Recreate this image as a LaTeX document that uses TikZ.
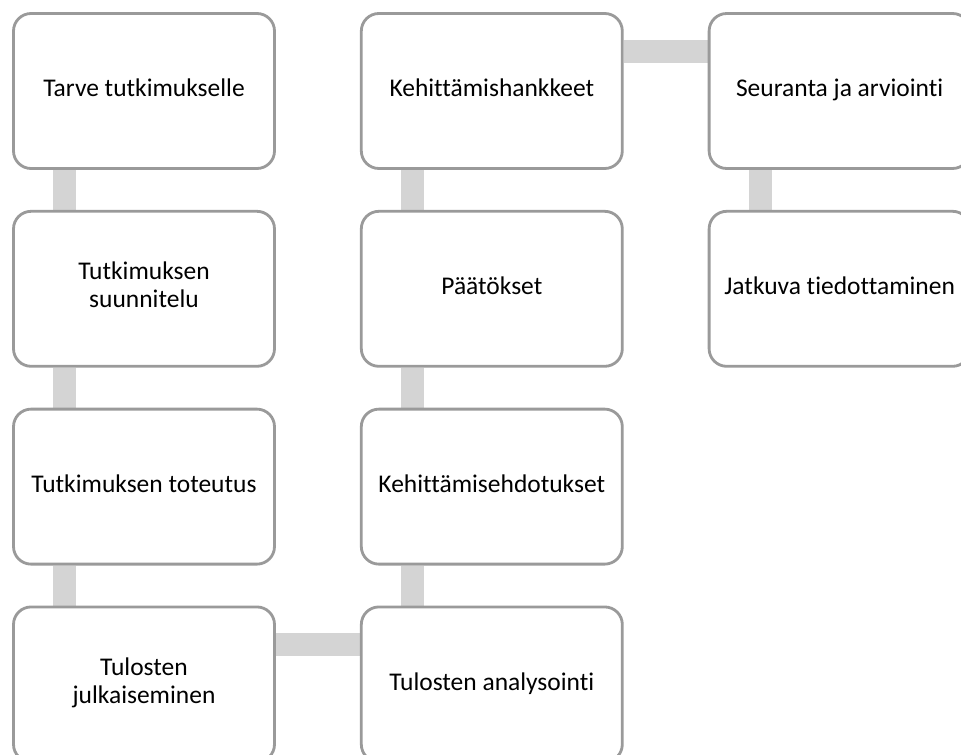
\documentclass[tikz,border=0pt]{standalone}
\usepackage{fontspec}
\setmainfont{Carlito}[Ligatures=NoCommon]
\usetikzlibrary{positioning,calc,backgrounds}
\definecolor{boxline}{HTML}{9A9A9A}
\definecolor{barfill}{HTML}{D4D4D4}
\newcommand{\vlink}[2]{\draw[bar] ($(#1.south west)!0.2!(#1.south east)$) -- ($(#2.north west)!0.2!(#2.north east)$);}
\newcommand{\hlink}[2]{\draw[bar] ($(#1.north east)!0.25!(#1.south east)$) -- ($(#2.north west)!0.25!(#2.south west)$);}

\begin{document}
\begin{tikzpicture}[node distance=0.8cm and 1.68cm,
  phase/.style={rounded corners=10pt, fill=white, draw=boxline, line width=1.6pt, minimum width=5.22cm, minimum height=3.1cm, align=center, font=\fontsize{14.5}{16}\selectfont, execute at begin node=\strut},
  bar/.style={draw=barfill, line width=0.46cm}]
\useasboundingbox (-2.88,1.82) rectangle ++(19.22,-15.1);
\clip (-2.88,1.82) rectangle ++(19.22,-15.1);
\node[phase] (tarve) at (0,0) {Tarve tutkimukselle};
\node[phase, below=of tarve] (suunnitelu) {Tutkimuksen\\suunnitelu};
\node[phase, below=of suunnitelu] (toteutus) {Tutkimuksen toteutus};
\node[phase, below=of toteutus] (julkaisu) {Tulosten\\julkaiseminen};
\node[phase, right=of julkaisu] (analyysi) {Tulosten analysointi};
\node[phase, above=of analyysi] (ehdotukset) {Kehittämisehdotukset};
\node[phase, above=of ehdotukset] (paatokset) {Päätökset};
\node[phase, above=of paatokset] (hankkeet) {Kehittämishankkeet};
\node[phase, right=of hankkeet] (seuranta) {Seuranta ja arviointi};
\node[phase, below=of seuranta] (tiedotus) {Jatkuva tiedottaminen};
\begin{scope}[on background layer]
\vlink{tarve}{suunnitelu}
\vlink{suunnitelu}{toteutus}
\vlink{toteutus}{julkaisu}
\hlink{julkaisu}{analyysi}
\vlink{ehdotukset}{analyysi}
\vlink{paatokset}{ehdotukset}
\vlink{hankkeet}{paatokset}
\hlink{hankkeet}{seuranta}
\vlink{seuranta}{tiedotus}
\end{scope}
\end{tikzpicture}
\end{document}
